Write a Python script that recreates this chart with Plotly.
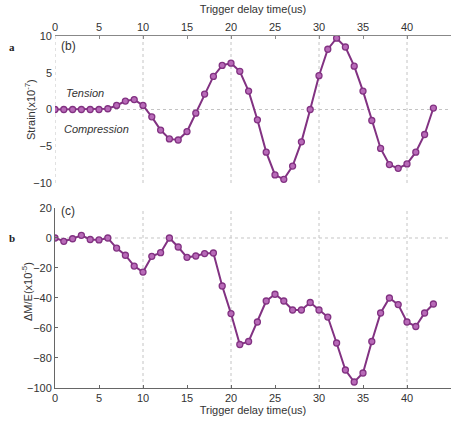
import plotly.graph_objects as go
from plotly.subplots import make_subplots

delay_us = list(range(0, 44))
strain = [0, 0, 0, 0, 0, 0, 0.1, 0.55, 1.15, 1.35, 0.55, -1.0, -2.8, -4.0, -4.15, -3.0,
          -0.5, 2.1, 4.5, 6.0, 6.3, 5.2, 2.5, -1.4, -5.8, -8.9, -9.5, -7.7, -4.4, 0.0,
          4.6, 8.2, 9.7, 8.5, 5.9, 2.5, -1.5, -5.3, -7.5, -8.0, -7.4, -5.8, -3.4, 0.2]
dme = [0, -2.2, -0.5, 1.8, -1.0, -1.3, 0, -6.7, -11.5, -18.7, -22.7, -12.2, -9.8, 0,
       -6.0, -12.9, -12.0, -10.4, -10.0, -32, -50.4, -71, -69, -56, -42, -37.5, -42, -48,
       -48, -43, -48, -52.7, -70, -88, -96, -90, -69, -50, -40, -44.4, -56, -59, -50, -44]
x_ticks = [0, 5, 10, 15, 20, 25, 30, 35, 40, 45]
strain_ticks = [-10, -5, 0, 5, 10]
dme_ticks = [-100, -80, -60, -40, -20, 0, 20]

LINE = "#823282"
FILL = "#b86ab8"
TXT = "#333333"
GRID = "#c4c4c4"
DASH = "3px,3px"

fig = make_subplots(rows=2, cols=1)
for data, row in [(strain, 1), (dme, 2)]:
    fig.add_trace(go.Scatter(
        x=delay_us, y=data, mode="lines+markers",
        line=dict(color=LINE, width=2),
        marker=dict(size=6, color=FILL, line=dict(color=LINE, width=1.3)),
        showlegend=False), row=row, col=1)

font = dict(family="Liberation Sans, Arial", size=11, color=TXT)
fig.update_layout(
    width=456, height=423,
    margin=dict(l=55, r=5, t=36, b=35),
    paper_bgcolor="white", plot_bgcolor="white",
    font=font,
    xaxis=dict(domain=[0, 1], anchor="y", side="top", range=[0, 45], tickvals=x_ticks,
               showgrid=False, zeroline=False, showline=True, linecolor="#888", mirror=False,
               ticks="inside", ticklen=3, tickcolor="#888",
               title=dict(text="Trigger delay time(us)", standoff=4, font=font)),
    yaxis=dict(domain=[0.5824, 1.0], anchor="x", range=[-10, 10], tickvals=strain_ticks,
               showgrid=False, zeroline=False, showline=False, ticks="", ticklabelstandoff=2),
    xaxis2=dict(domain=[0, 1], anchor="y2", range=[0, 45], tickvals=x_ticks,
                showgrid=False, zeroline=False, showline=True, linecolor="#666",
                ticks="inside", ticklen=3, tickcolor="#666",
                title=dict(text="Trigger delay time(us)", standoff=2, font=font)),
    yaxis2=dict(domain=[0.0, 0.5114], anchor="x2", range=[-100, 20], tickvals=dme_ticks,
                showgrid=False, zeroline=False, showline=True, linecolor="#666",
                ticks="inside", ticklen=3, tickcolor="#666"),
)

# dashed reference lines
for xv in [0, 10, 20, 30, 40]:
    fig.add_shape(type="line", xref="x", yref="y", x0=xv, x1=xv, y0=-10, y1=10,
                  line=dict(color=GRID, width=1, dash=DASH), layer="below")
for xv in [10, 20, 30, 40]:
    fig.add_shape(type="line", xref="x2", yref="y2", x0=xv, x1=xv, y0=-100, y1=20,
                  line=dict(color=GRID, width=1, dash=DASH), layer="below")
fig.add_shape(type="line", xref="x", yref="y", x0=0, x1=45, y0=0, y1=0,
              line=dict(color=GRID, width=1, dash=DASH), layer="below")
fig.add_shape(type="line", xref="x2", yref="y2", x0=0, x1=45, y0=0, y1=0,
              line=dict(color=GRID, width=1, dash=DASH), layer="below")

ann = [
    dict(x=0.5, y=8.6, xref="x", yref="y", text="(b)", xanchor="left",
         font=dict(family="Liberation Sans", size=12, color=TXT)),
    dict(x=0.5, y=18.0, xref="x2", yref="y2", text="(c)", xanchor="left",
         font=dict(family="Liberation Sans", size=12, color=TXT)),
    dict(x=1.0, y=2.3, xref="x", yref="y", text="<i>Tension</i>", xanchor="left",
         font=dict(family="Liberation Sans", size=11, color=TXT)),
    dict(x=0.8, y=-2.6, xref="x", yref="y", text="<i>Compression</i>", xanchor="left",
         font=dict(family="Liberation Sans", size=11, color=TXT)),
    dict(x=12, y=47, xref="paper", yref="paper", text="<b>a</b>",
         font=dict(family="Liberation Serif", size=11, color="#222")),
    dict(x=12, y=238, xref="paper", yref="paper", text="<b>b</b>",
         font=dict(family="Liberation Serif", size=11, color="#222")),
    dict(x=30, y=110, xref="paper", yref="paper", text="Strain(x10<sup>-7</sup>)",
         textangle=-90, font=font),
    dict(x=27, y=292, xref="paper", yref="paper", text="ΔM/E(x10<sup>-5</sup>)",
         textangle=-90, font=font),
]
# convert pixel-located labels to paper coords
for a in ann:
    if a["xref"] == "paper":
        a["x"] = (a["x"] - 55) / 396
        a["y"] = (388 - a["y"]) / 352
        a["xanchor"] = "center"
        a["yanchor"] = "middle"
    a["showarrow"] = False
    fig.add_annotation(**a)

fig.write_html("out.html")
